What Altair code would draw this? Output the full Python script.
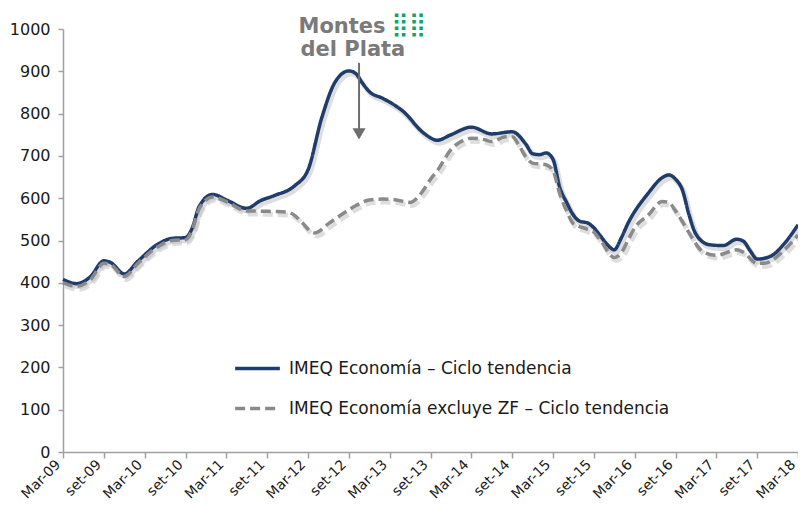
import altair as alt
import pandas as pd

S1 = "IMEQ Economía – Ciclo tendencia"
S2 = "IMEQ Economía excluye ZF – Ciclo tendencia"

# Serie 1 (IMEQ Economía) - fechas y valores
s1_dates = ["2009-03", "2009-05", "2009-07", "2009-09", "2009-10", "2009-12", "2010-02",
            "2010-05", "2010-07", "2010-09", "2010-10", "2010-11", "2011-01", "2011-03",
            "2011-06", "2011-08", "2011-10", "2012-01", "2012-03", "2012-05", "2012-07",
            "2012-09", "2012-10", "2012-11", "2012-12", "2013-02", "2013-05", "2013-08",
            "2013-10", "2013-12", "2014-03", "2014-06", "2014-09", "2014-11", "2014-12",
            "2015-01", "2015-02", "2015-03", "2015-04", "2015-05", "2015-06", "2015-07",
            "2015-08", "2015-09", "2015-10", "2015-11", "2015-12", "2016-01", "2016-02",
            "2016-05", "2016-07", "2016-08", "2016-09", "2016-10", "2016-11", "2016-12",
            "2017-02", "2017-04", "2017-06", "2017-07", "2017-08", "2017-09", "2017-11",
            "2018-01", "2018-03"]
s1_values = [408, 398, 414, 452, 448, 421, 451,
             492, 505, 507, 530, 580, 609, 596,
             576, 594, 606, 629, 667, 789, 875,
             901, 895, 872, 852, 836, 805, 754,
             737, 750, 768, 752, 757, 728, 705,
             703, 707, 692, 625, 590, 560, 545,
             542, 530, 510, 490, 478, 505, 540,
             612, 648, 655, 645, 620, 560, 515,
             490, 488, 503, 498, 475, 456, 463,
             493, 537]

# Serie 2 (excluye ZF)
s2_dates = ["2009-03", "2009-05", "2009-07", "2009-09", "2009-10", "2009-12", "2010-02",
            "2010-05", "2010-07", "2010-09", "2010-10", "2010-11", "2011-01", "2011-03",
            "2011-06", "2011-09", "2011-12", "2012-02", "2012-03", "2012-04", "2012-06",
            "2012-08", "2012-10", "2012-12", "2013-02", "2013-04", "2013-06", "2013-07",
            "2013-08", "2013-09", "2013-10", "2013-12", "2014-02", "2014-03", "2014-05",
            "2014-06", "2014-08", "2014-09", "2014-10", "2014-11", "2014-12", "2015-02",
            "2015-03", "2015-04", "2015-05", "2015-06", "2015-08", "2015-09", "2015-10",
            "2015-12", "2016-01", "2016-02", "2016-03", "2016-05", "2016-07", "2016-08",
            "2016-09", "2016-10", "2016-11", "2017-01", "2017-03", "2017-06", "2017-07",
            "2017-09", "2017-10", "2018-01", "2018-03"]
s2_values = [400, 392, 407, 446, 443, 415, 446,
             486, 500, 502, 525, 575, 603, 592,
             570, 569, 567, 545, 527, 518, 540,
             562, 582, 596, 598, 596, 590, 600,
             620, 645, 665, 715, 738, 742, 738,
             734, 745, 745, 725, 698, 683, 679,
             665, 610, 570, 540, 527, 520, 500,
             460, 470, 500, 530, 560, 592, 590,
             570, 545, 518, 474, 465, 478, 472,
             446, 446, 478, 513]

tick_labels = ["Mar-09", "set-09", "Mar-10", "set-10", "Mar-11", "set-11", "Mar-12",
               "set-12", "Mar-13", "set-13", "Mar-14", "set-14", "Mar-15", "set-15",
               "Mar-16", "set-16", "Mar-17", "set-17", "Mar-18"]
y_ticks = [0, 100, 200, 300, 400, 500, 600, 700, 800, 900, 1000]


def month_index(d):
    y, m = d.split("-")
    return (int(y) - 2009) * 12 + int(m) - 3


df1 = pd.DataFrame({"m": [month_index(d) for d in s1_dates], "v": s1_values, "serie": S1})
df2 = pd.DataFrame({"m": [month_index(d) for d in s2_dates], "v": s2_values, "serie": S2})
df = pd.concat([df1, df2], ignore_index=True)

label_expr = "[" + ",".join("'" + t + "'" for t in tick_labels) + "][round(datum.value/6)]"

NAVY = "#1f3c6b"
GRAY = "#8a8a8a"
FONT = "DejaVu Sans"

x_enc = alt.X("m:Q", scale=alt.Scale(domain=[0, 108], nice=False, zero=False),
              axis=alt.Axis(values=list(range(0, 109, 6)), labelExpr=label_expr,
                            labelAngle=-45, labelAlign="right", labelBaseline="middle",
                            labelPadding=4, labelOffset=-5, tickSize=6, title=None, grid=False,
                            labelFontSize=14, labelOverlap=False, labelFont=FONT,
                            labelColor="#1a1a1a"))
y_enc = alt.Y("v:Q", scale=alt.Scale(domain=[0, 1000], nice=False),
              axis=alt.Axis(values=y_ticks, format="d", tickSize=5, labelPadding=8, title=None,
                            grid=False, labelFontSize=16, labelFont=FONT,
                            labelColor="#1a1a1a"))

shadow1 = alt.Chart(df1).mark_line(interpolate="monotone", color="#bdbdbd", opacity=0.5,
                                   strokeWidth=5, xOffset=2, yOffset=3).encode(x=x_enc, y=y_enc)
shadow2 = alt.Chart(df2).mark_line(interpolate="monotone", color="#bdbdbd", opacity=0.5,
                                   strokeWidth=5, xOffset=2, yOffset=3,
                                   strokeDash=[10, 5]).encode(x=x_enc, y=y_enc)

lines = alt.Chart(df).mark_line(interpolate="monotone", strokeWidth=3.5).encode(
    x=x_enc, y=y_enc,
    color=alt.Color("serie:N", scale=alt.Scale(domain=[S1, S2], range=[NAVY, GRAY]),
                    legend=alt.Legend(title=None, orient="none", legendX=170, legendY=315,
                                      symbolType="stroke", symbolSize=2000,
                                      symbolStrokeWidth=3.5, labelFontSize=17,
                                      labelFont=FONT, labelLimit=600,
                                      labelColor="#1a1a1a", rowPadding=7, labelOffset=7,
                                      padding=0)),
    strokeDash=alt.StrokeDash("serie:N", scale=alt.Scale(domain=[S1, S2], range=[[1, 0], [10, 5]]),
                              legend=alt.Legend(title=None)),
)

# Logo "Montes del Plata" y flecha
logo_df = pd.DataFrame({"m": [41.0, 42.6], "v": [990, 936], "t": ["Montes", "del Plata"]})
logo = alt.Chart(logo_df).mark_text(font=FONT, fontWeight="bold", fontSize=21,
                                    color="#7a7a7a", baseline="alphabetic", align="center"
                                    ).encode(x="m:Q", y="v:Q", text="t:N")
dots_df = pd.DataFrame({"m": [50.8], "v": [1010], "t": ["⣿⣿"]})
dots = alt.Chart(dots_df).mark_text(font=FONT, fontSize=24, color="#12a36b",
                                    baseline="middle", align="center"
                                    ).encode(x="m:Q", y="v:Q", text="t:N")

arrow_df = pd.DataFrame({"m": [43.5], "v": [920], "v2": [752]})
arrow_line = alt.Chart(arrow_df).mark_rule(color="#6e6e6e", strokeWidth=2).encode(
    x="m:Q", y="v:Q", y2="v2:Q")
arrow_head = alt.Chart(arrow_df).mark_point(shape="triangle-down", filled=True, size=170,
                                            color="#6e6e6e", opacity=1).encode(
    x="m:Q", y=alt.Y("v2:Q"))

chart = alt.layer(shadow1, shadow2, lines, arrow_line, arrow_head, logo, dots).properties(
    width=735, height=423,
    background="white",
    autosize=alt.AutoSizeParams(type="none"),
    padding={"left": 55, "top": 21, "right": 0, "bottom": 52},
).configure_view(stroke=None).configure_axis(
    domainColor="#a0a0a0", tickColor="#a0a0a0", domainWidth=1.5, tickWidth=1.5,
    labelFont=FONT, labelColor="#1a1a1a",
).configure_legend(labelFont=FONT)

chart.save("out.html", embed_options={"renderer": "svg", "actions": False})
